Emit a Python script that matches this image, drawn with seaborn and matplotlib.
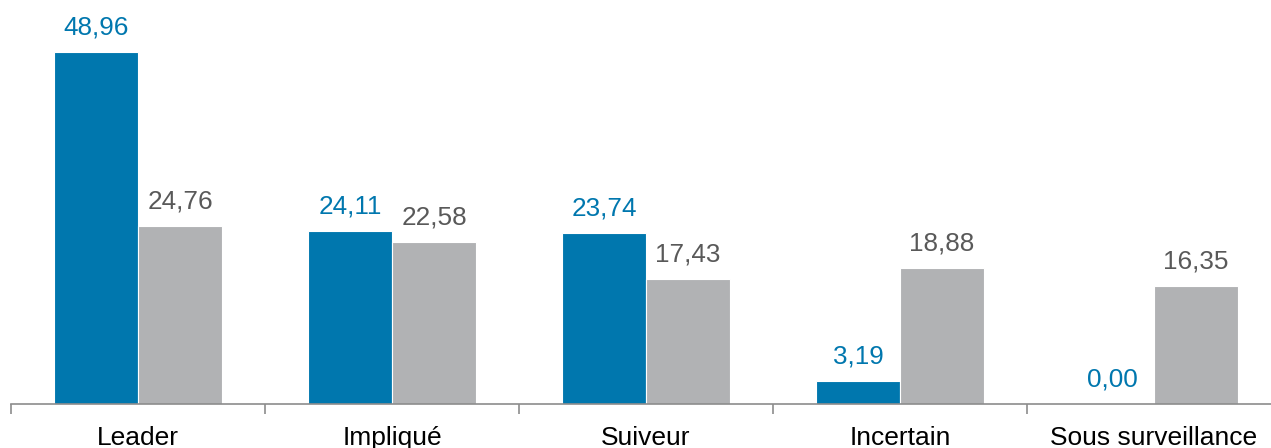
import matplotlib
matplotlib.use("Agg")
import matplotlib.pyplot as plt
import seaborn as sns
import pandas as pd
import numpy as np

categories = ["Leader", "Impliqué", "Suiveur", "Incertain", "Sous surveillance"]
series_a = [48.96, 24.11, 23.74, 3.19, 0.00]
series_b = [24.76, 22.58, 17.43, 18.88, 16.35]
series_names = ["A", "B"]

blue = "#0077AE"
grey = "#B1B2B4"
grey_text = "#595959"

sns.set_theme(style="white")
plt.rcParams["font.family"] = ["Liberation Sans", "DejaVu Sans"]

df = pd.DataFrame({
    "cat": categories * 2,
    "val": series_a + series_b,
    "series": [series_names[0]] * len(categories) + [series_names[1]] * len(categories),
})

fig = plt.figure(figsize=(12.71, 4.48), dpi=100)
ax = fig.add_axes([11 / 1271, 44 / 448, 1270 / 1271, 404 / 448])

sns.barplot(data=df, x="cat", y="val", hue="series", order=categories,
            hue_order=series_names, palette=[blue, grey], width=0.662,
            edgecolor="white", linewidth=0.8, legend=False, ax=ax, saturation=1)

ax.set_xlim(-0.5, len(categories) - 0.5)
ax.set_ylim(0, 56.2)

label_colors = [blue, grey_text]
for cont, col in zip(ax.containers, label_colors):
    labels = [f"{v:.2f}".replace(".", ",") for v in cont.datavalues]
    ax.bar_label(cont, labels=labels, padding=9, color=col, fontsize=18.8)

ax.set_xlabel("")
ax.set_ylabel("")
ax.set_yticks([])
for s in ["top", "right", "left"]:
    ax.spines[s].set_visible(False)
ax.spines["bottom"].set_color("#8C8C8C")
ax.spines["bottom"].set_linewidth(1.2)

ax.set_xticks(range(len(categories)))
ax.set_xticklabels(categories, fontsize=19, color="black")
ax.set_xticks(np.arange(-0.5, len(categories) + 0.5, 1), minor=True)
ax.tick_params(axis="x", which="major", length=0, pad=15.5)
ax.tick_params(axis="x", which="minor", length=7, width=1.2, color="#8C8C8C",
               direction="out", bottom=True)

fig.savefig("out.png", dpi=100)
